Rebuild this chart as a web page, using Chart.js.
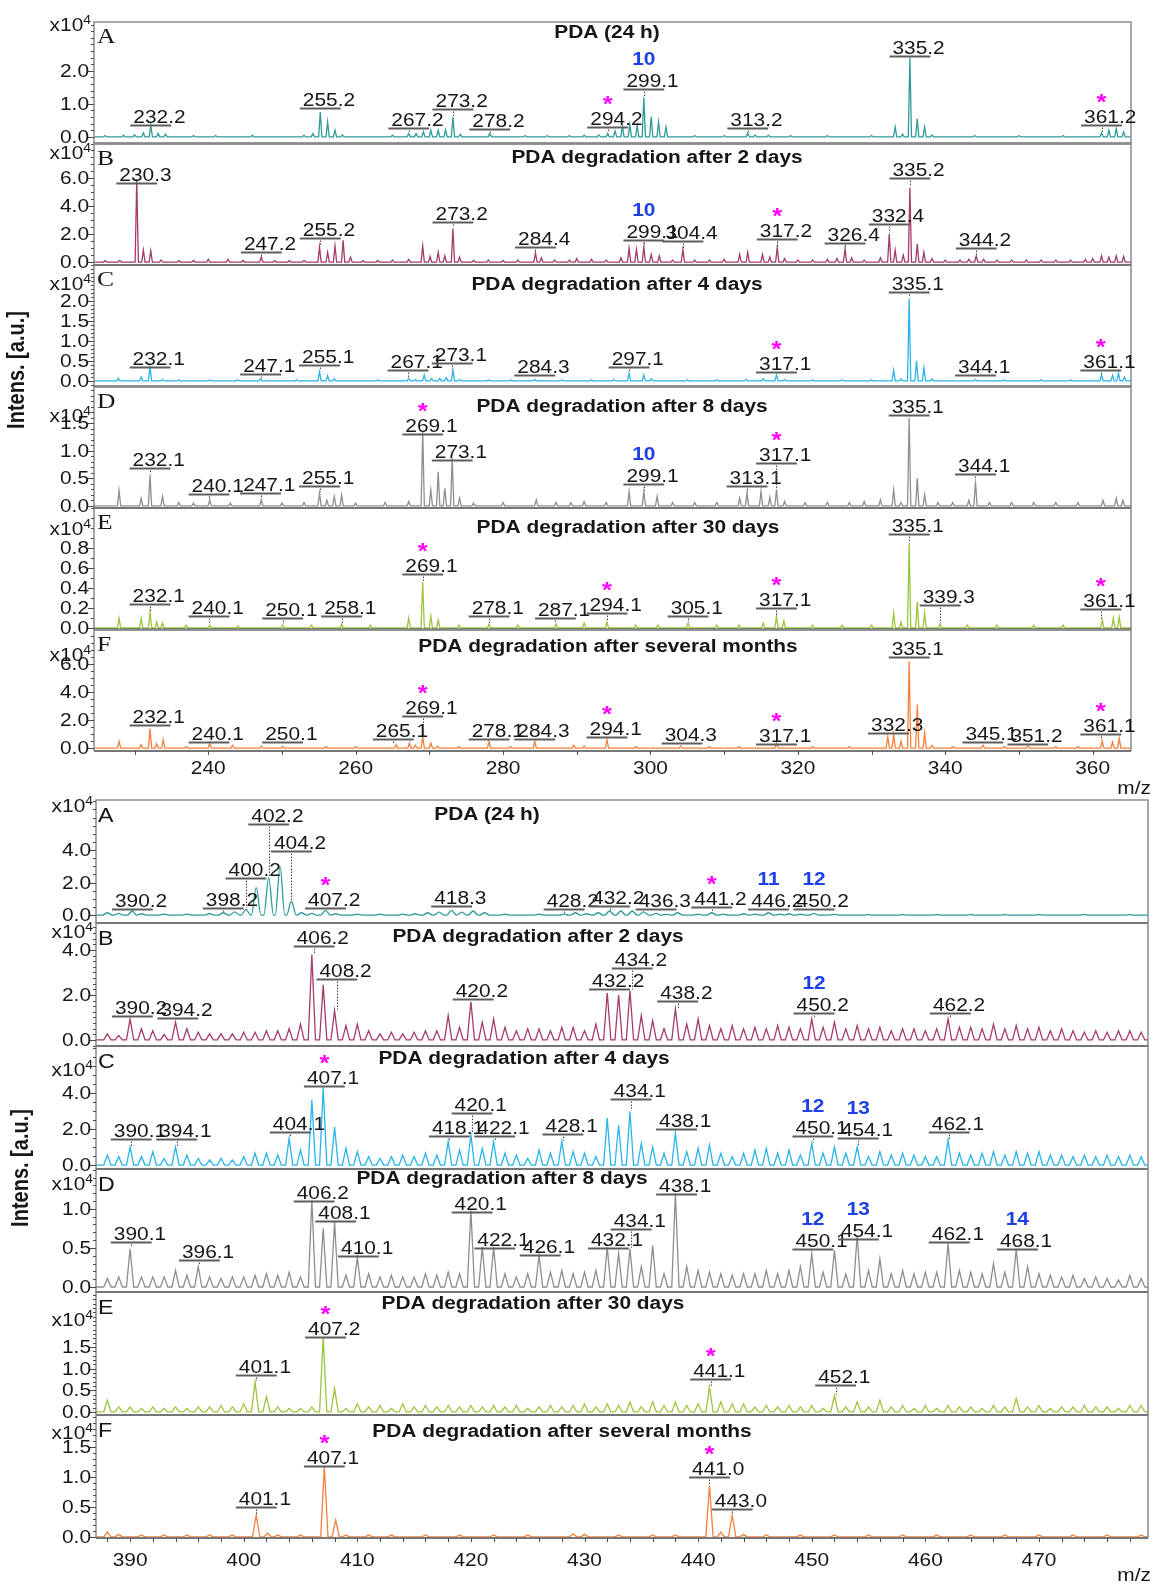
<!DOCTYPE html>
<html>
<head>
<meta charset="utf-8">
<script src="https://cdn.jsdelivr.net/npm/chart.js@4.4.1/dist/chart.umd.min.js"></script>
<style>
  html, body { margin: 0; padding: 0; background: #fff; }
  body { width: 1153px; height: 1585px; position: relative; overflow: hidden; }
  canvas { position: absolute; left: 0; }
  #topChart { top: 0; }
  #botChart { top: 780px; }
</style>
</head>
<body>
<canvas id="topChart" width="1153" height="800"></canvas>
<canvas id="botChart" width="1153" height="805"></canvas>
<script>
// ---- data: [m/z, intensity x10^4] ----
const peaksTA = [[226,0.04],[228.5,0.05],[230,0.06],[231.2,0.12],[232.2,0.35],[233.2,0.1],[234.2,0.08],[238,0.04],[241,0.04],[246,0.05],
  [253,0.05],[254.2,0.1],[255.2,0.75],[256.2,0.45],[257.2,0.2],[258.2,0.06],[265,0.05],[267.2,0.1],[268.2,0.1],[269.2,0.15],
  [270.2,0.2],[271.2,0.2],[272.2,0.22],[273.2,0.6],[274.2,0.08],[278.2,0.1],[283,0.04],[286,0.04],[289,0.04],[291,0.05],
  [293,0.06],[294.2,0.1],[295.2,0.18],[296.2,0.32],[297.2,0.38],[298.2,0.35],[299.1,1.2],[300.1,0.62],[301.1,0.45],[302.1,0.3],
  [306,0.04],[310,0.04],[313.2,0.12],[314.2,0.06],[316,0.05],[319,0.04],[324,0.04],[330,0.04],[333.2,0.3],[334.2,0.08],
  [335.2,2.4],[336.2,0.55],[337.2,0.3],[338.2,0.06],[344,0.04],[350,0.04],[356,0.04],[361.2,0.12],[362.2,0.2],[363.2,0.25],[364.2,0.15]];
const labelsTA = ['232.2','255.2','267.2','273.2','278.2','294.2','299.1','313.2','335.2','361.2'];
const starsTA = ['294.2','361.2'];
const compsTA = [['299.1','10']];

const peaksTB = [[226,0.1],[228,0.12],[230.3,5.9],[231.2,0.85],[232.2,0.8],[233.6,0.15],[236,0.1],[238,0.12],[240,0.2],[242.7,0.2],
  [244.7,0.12],[247.2,0.35],[249,0.1],[251,0.1],[253,0.12],[255.1,1.07],[256.2,0.7],[257.2,1.15],[258.3,1.55],[259.3,0.35],
  [261,0.1],[263,0.12],[265,0.15],[267.2,0.2],[269.1,1.15],[270.1,0.4],[271.2,0.7],[272.1,0.45],[273.2,2.4],[274.1,0.35],
  [276,0.12],[278,0.15],[280,0.12],[282,0.15],[284.4,0.65],[285.2,0.3],[287,0.15],[289,0.15],[290,0.25],[292,0.2],
  [294,0.15],[296,0.3],[297.1,1.0],[298.1,0.9],[299.1,1.1],[300.1,0.55],[301.2,0.45],[303,0.15],[304.4,0.9],[306,0.15],
  [308,0.15],[310,0.2],[312.1,0.55],[313.2,0.7],[315.2,0.55],[316.2,0.35],[317.2,1.05],[318.2,0.25],[320,0.15],[322,0.15],
  [324,0.2],[325.3,0.25],[326.4,0.95],[327.3,0.3],[329,0.15],[331.2,0.3],[332.4,2.0],[333.2,0.85],[334.3,0.5],[335.2,5.3],
  [336.2,1.3],[337.1,0.7],[338.2,0.25],[340,0.15],[342,0.15],[343.2,0.2],[344.2,0.45],[345.2,0.2],[347,0.15],[349,0.15],
  [351,0.15],[353,0.15],[355,0.15],[357,0.15],[359,0.2],[360,0.25],[361.2,0.45],[362.2,0.35],[363.2,0.45],[364.2,0.4]];
const labelsTB = ['230.3','247.2','255.2','273.2','284.4','299.1','304.4','317.2','326.4','332.4','335.2','344.2'];
const starsTB = ['317.2'];
const compsTB = [['299.1','10']];

const peaksTC = [[227.8,0.06],[230.9,0.1],[232.1,0.35],[233.8,0.04],[236,0.03],[240.2,0.03],[244,0.03],[247.1,0.05],[252,0.03],[255.1,0.23],
  [256.2,0.13],[257.1,0.05],[263,0.03],[267.2,0.06],[268.1,0.04],[269.3,0.15],[270.3,0.06],[271.4,0.06],[272.3,0.08],[273.2,0.27],
  [274.1,0.04],[278,0.03],[281,0.03],[284.3,0.04],[288,0.03],[292,0.03],[295,0.04],[297.1,0.19],[299.1,0.15],[300.1,0.05],
  [305,0.03],[309,0.03],[313,0.04],[315.3,0.05],[317.1,0.15],[318.2,0.04],[322,0.03],[326,0.03],[330,0.03],[333,0.27],
  [334,0.05],[335.1,2.06],[336.1,0.5],[337.1,0.33],[338.2,0.05],[344.1,0.04],[348,0.03],[353,0.03],[357,0.03],[361.2,0.15],
  [362.7,0.14],[363.5,0.2],[364.3,0.1]];
const labelsTC = ['232.1','247.1','255.1','267.1','273.1','284.3','297.1','317.1','335.1','344.1','361.1'];
const starsTC = ['317.1','361.1'];
const compsTC = [];

const peaksTD = [[227.9,0.28],[230.9,0.14],[232.1,0.56],[233.8,0.17],[236,0.06],[238,0.05],[240.2,0.11],[243,0.05],[247.2,0.11],[250,0.05],
  [253,0.06],[255.1,0.23],[256.1,0.1],[257.1,0.17],[258.1,0.19],[260,0.05],[264,0.06],[267.2,0.08],[269.1,1.35],[270.2,0.29],
  [271.2,0.62],[272.1,0.32],[273.1,0.87],[274.1,0.14],[276,0.05],[280,0.06],[284.5,0.11],[287.2,0.06],[289.2,0.06],[291,0.08],
  [294,0.06],[297.1,0.26],[299.1,0.26],[300.9,0.17],[303,0.06],[306,0.06],[309,0.06],[312.1,0.14],[313.1,0.23],[315,0.26],
  [316.2,0.16],[317.1,0.3],[318.2,0.08],[321,0.06],[324,0.06],[327,0.06],[329,0.08],[331.2,0.11],[333,0.29],[334,0.06],
  [335.1,1.6],[336.2,0.5],[337.2,0.2],[339,0.06],[341,0.06],[343.2,0.1],[344.1,0.44],[346,0.06],[349,0.06],[352,0.06],
  [355,0.06],[358,0.06],[361.4,0.1],[363.2,0.14],[364.1,0.1]];
const labelsTD = ['232.1','240.1','247.1','255.1','269.1','273.1','299.1','313.1','317.1','335.1','344.1'];
const starsTD = ['269.1','317.1'];
const compsTD = [['299.1','10']];

const peaksTE = [[227.9,0.1],[230.9,0.1],[232.1,0.16],[233,0.06],[233.8,0.05],[237,0.03],[240.2,0.03],[244,0.02],[250.1,0.03],[254,0.03],
  [258.1,0.04],[262,0.03],[267.2,0.1],[269.1,0.46],[270.2,0.12],[271.2,0.08],[274,0.03],[278.1,0.04],[282,0.03],[287.2,0.04],
  [291,0.05],[294.1,0.06],[298,0.03],[301,0.03],[305.1,0.05],[309,0.03],[312,0.03],[315.3,0.05],[317.1,0.12],[318.1,0.07],
  [322,0.03],[326,0.03],[330,0.03],[333,0.15],[334,0.06],[335.1,0.85],[336.2,0.26],[337.2,0.15],[339.3,0.04],[343,0.03],
  [347,0.03],[352,0.03],[356,0.03],[361.3,0.08],[362.8,0.1],[363.6,0.11]];
const labelsTE = ['232.1','240.1','250.1','258.1','269.1','278.1','287.1','294.1','305.1','317.1','335.1','339.3','361.1'];
const starsTE = ['269.1','294.1','317.1','361.1'];
const compsTE = [];

const peaksTF = [[227.9,0.48],[230.9,0.24],[232.1,1.38],[233,0.3],[233.9,0.6],[237,0.1],[240.2,0.36],[243.3,0.2],[247.2,0.15],[250.1,0.12],
  [256,0.1],[260,0.1],[265.5,0.24],[267.3,0.36],[268.1,0.2],[269.1,0.76],[270.2,0.36],[271.1,0.15],[274,0.1],[278.1,0.48],
  [281,0.1],[284.3,0.48],[289.6,0.2],[291,0.15],[294.1,0.6],[298,0.1],[304.1,0.15],[308,0.1],[312,0.1],[317.1,0.36],
  [322,0.1],[327,0.1],[332.2,0.83],[333,1.0],[334,0.5],[335.1,6.2],[336.2,3.1],[337.2,1.07],[338.2,0.2],[341,0.1],
  [345.1,0.2],[348,0.1],[351.2,0.15],[355,0.1],[358,0.1],[361.3,0.52],[362.7,0.43],[363.6,0.71]];
const labelsTF = ['232.1','240.1','250.1','265.1','269.1','278.1','284.3','294.1','304.3','317.1','332.3','335.1','345.1','351.2','361.1'];
const starsTF = ['269.1','294.1','317.1','361.1'];
const compsTF = [];

// lower figure (m/z 387-480)
const peaksBA = [[388,0.14],[389,0.1],[390.2,0.25],[391,0.08],[393,0.05],[395,0.05],[397,0.08],[398.2,0.14],[399.2,0.2],[400.2,0.35],
  [401.1,1.7],[402.2,2.3],[403.2,3.0],[404.2,0.86],[405.1,0.14],[406,0.1],[407.2,0.29],[408.1,0.08],[410,0.05],[412,0.05],
  [414,0.06],[415.1,0.08],[416.2,0.14],[417.2,0.18],[418.3,0.29],[419.2,0.18],[420.2,0.25],[421.2,0.14],[423,0.05],[426,0.05],
  [428.2,0.06],[429.2,0.14],[430.2,0.08],[431.2,0.14],[432.2,0.25],[433.2,0.25],[434.2,0.25],[435.2,0.2],[436.3,0.1],[437.2,0.04],
  [438.2,0.14],[440,0.05],[441.2,0.14],[442.2,0.06],[444,0.08],[445,0.05],[446.2,0.14],[447.2,0.05],[448,0.08],[449,0.05],
  [450.2,0.1],[452,0.04],[455,0.03],[458,0.03],[461,0.03],[464,0.03],[467,0.03],[470,0.03],[474,0.02],[478,0.02]];
const labelsBA = ['390.2','398.2','400.2','402.2','404.2','407.2','418.3','428.2','432.2','436.3','441.2','446.2','450.2'];
const starsBA = ['407.2','441.2'];
const compsBA = [['446.2','11'],['450.2','12']];

// panels B-E of the lower figure: one peak per nominal mass, m/z 388 ... 479
const gridMz = Array.from({ length: 92 }, (_, i) => 388 + i);
const gridB = [0.27,0.2,0.93,0.5,0.41,0.24,0.79,0.5,0.34,0.27, 0.27,0.27,0.34,0.34,0.41,0.41,0.5,0.7,3.8,2.45,
  1.3,0.64,0.7,0.41,0.27,0.34,0.27,0.34,0.41,0.41, 1.08,0.56,1.7,0.79,0.93,0.56,0.41,0.49,0.49,0.41,
  0.56,0.56,0.41,0.7,2.1,2.0,2.2,1.08,0.86,0.5, 1.38,0.7,0.93,0.64,0.5,0.64,0.49,0.56,0.49,0.64,
  0.56,0.49,0.93,0.56,0.79,0.49,0.64,0.49,0.56,0.41, 0.49,0.49,0.41,0.49,0.93,0.56,0.56,0.49,0.7,0.49,
  0.64,0.49,0.56,0.41,0.49,0.41,0.34,0.41,0.34,0.41, 0.41,0.34];
const labelsBB = ['390.2','394.2','406.2','408.2','420.2','432.2','434.2','438.2','450.2','462.2'];
const starsBB = [];
const compsBB = [['450.2','12']];

const gridC = [0.55,0.46,1.0,0.46,0.74,0.37,1.0,0.55,0.37,0.28, 0.37,0.28,0.46,0.65,0.65,0.55,1.48,0.83,3.6,4.3,
  2.1,0.93,0.74,0.46,0.37,0.46,0.55,0.46,0.65,0.55, 1.3,0.83,1.67,0.93,1.3,0.65,0.55,0.37,0.83,0.65,
  1.3,0.74,0.65,0.46,2.6,2.2,2.96,1.2,1.0,0.65, 1.76,0.74,0.93,1.1,0.65,0.46,0.65,0.83,0.93,0.65,
  0.83,0.55,1.2,0.65,1.0,0.65,1.0,0.46,0.74,0.55, 0.65,0.55,0.46,0.46,1.39,0.65,0.55,0.65,0.74,0.55,
  0.74,0.65,0.74,0.55,0.55,0.46,0.55,0.46,0.55,0.46, 0.55,0.46];
const labelsBC = ['390.1','394.1','404.1','407.1','418.1','420.1','422.1','428.1','434.1','438.1','450.1','454.1','462.1'];
const starsBC = ['407.1'];
const compsBC = [['450.1','12'],['454.1','13']];

const gridD = [0.11,0.13,0.49,0.13,0.13,0.13,0.21,0.15,0.26,0.13, 0.11,0.13,0.13,0.15,0.17,0.15,0.19,0.13,1.11,0.75,
  0.83,0.15,0.38,0.17,0.13,0.15,0.13,0.13,0.17,0.15, 0.19,0.17,0.98,0.51,0.51,0.17,0.13,0.17,0.41,0.19,
  0.21,0.17,0.19,0.21,0.51,0.43,0.49,0.26,0.53,0.17, 1.2,0.26,0.21,0.19,0.17,0.15,0.17,0.17,0.21,0.17,
  0.21,0.26,0.43,0.19,0.47,0.17,0.66,0.21,0.36,0.17, 0.21,0.17,0.19,0.19,0.56,0.21,0.19,0.17,0.3,0.19,
  0.49,0.26,0.17,0.15,0.13,0.15,0.11,0.13,0.11,0.09, 0.15,0.11];
const labelsBD = ['390.1','396.1','406.2','408.1','410.1','420.1','422.1','426.1','432.1','434.1','438.1','450.1','454.1','462.1','468.1'];
const starsBD = [];
const compsBD = [['450.1','12'],['454.1','13'],['468.1','14']];

const gridE = [0.27,0.12,0.12,0.08,0.12,0.08,0.12,0.08,0.12,0.12, 0.15,0.12,0.19,0.69,0.35,0.12,0.08,0.08,0.12,1.73,
  0.54,0.08,0.19,0.12,0.15,0.08,0.19,0.12,0.15,0.12, 0.15,0.12,0.15,0.12,0.15,0.12,0.15,0.08,0.12,0.15,
  0.12,0.15,0.19,0.12,0.19,0.15,0.23,0.12,0.23,0.15, 0.23,0.15,0.19,0.58,0.23,0.19,0.19,0.12,0.15,0.12,
  0.15,0.12,0.15,0.08,0.38,0.12,0.23,0.12,0.27,0.12, 0.15,0.08,0.15,0.08,0.15,0.12,0.12,0.08,0.15,0.12,
  0.31,0.12,0.15,0.08,0.12,0.12,0.15,0.12,0.12,0.08, 0.15,0.15];
const labelsBE = ['401.1','407.2','441.1','452.1'];
const starsBE = ['407.2','441.1'];
const compsBE = [];

const peaksBF = [[388,0.08],[389,0.04],[391,0.03],[393,0.03],[395,0.03],[397,0.03],[399,0.03],[401.1,0.36],[402.1,0.06],[403,0.03],
  [405,0.03],[407.1,1.17],[408.1,0.28],[409,0.03],[411,0.03],[413,0.03],[416,0.03],[419,0.03],[422,0.03],[425,0.03],
  [429,0.05],[430,0.04],[433,0.03],[436,0.03],[438,0.03],[441,0.86],[442,0.08],[443,0.36],[444,0.04],[446,0.03],
  [449,0.03],[452,0.03],[455,0.03],[458,0.03],[461,0.03],[464,0.03],[467,0.03],[470,0.03],[473,0.03],[476,0.03],[479,0.03]];
const labelsBF = ['401.1','407.1','441.0','443.0'];
const starsBF = ['407.1','441.0'];
const compsBF = [];

const topTickLabels = [240, 260, 280, 300, 320, 340, 360];
const botTickLabels = [390, 400, 410, 420, 430, 440, 450, 460, 470];

// ---- label placement (px above the zero line), layout only ----
const liftTA = [13, 30, 10, 29, 9, 11, 49, 10, 82, 13];
const liftTB = [80, 11, 25, 41, 16, 23, 22, 24, 20, 39, 85, 15];
const liftTC = [15, 8, 17, 12, 19, 7, 15, 10, 90, 7, 12];
const liftTD = [39, 13, 14, 21, 73, 47, 23, 21, 44, 92, 33];
const liftTE = [25, 13, 11, 13, 55, 13, 11, 16, 13, 21, 95, 24, 20];
const liftTF = [24, 7, 7, 10, 33, 10, 10, 12, 6, 5, 16, 92, 7, 5, 15];
const liftBA = [7, 8, 38, 92, 65, 8, 10, 7, 10, 7, 9, 7, 7];
const liftBB = [25, 23, 95, 62, 42, 52, 73, 40, 28, 28];
const liftBC = [27, 27, 34, 80, 30, 53, 30, 32, 67, 37, 30, 28, 34];
const liftBD = [46, 28, 87, 67, 32, 76, 40, 33, 40, 59, 94, 39, 49, 46, 39];
const liftBE = [38, 76, 34, 28];
const liftBF = [31, 72, 61, 29];

const COL = { teal: '#2f9b98', maroon: '#a33b6b', blue: '#2ab4ea', grey: '#8e8e8e', green: '#9bc53d', orange: '#f5803a' };
const SX = 1.16;          // the figure is stretched horizontally
const INK = '#161616';
const SANS = '"Liberation Sans", Arial, Helvetica, sans-serif';
const SERIF = '"Liberation Serif", "Times New Roman", serif';

const T2 = 'PDA degradation after ';
const topGroup = {
  canvas: 'topChart', xMin: 224.5, xMax: 365.2, serif: true,
  padding: { left: 54, right: 22, top: 22, bottom: 19 },
  tickLabels: topTickLabels, tick0: 230, tickStep: 10, labelDy: 23, yTitle: 370, yTitleX: 18, peakW: 0.22,
  panels: [
    { letter: 'A', title: 'PDA (24 h)', color: COL.teal, peaks: peaksTA, labels: labelsTA, lifts: liftTA, stars: starsTA, comps: compsTA,
      min: -0.2, max: 3.48, majors: [0, 1, 2], minor: 0.2, expoDy: 2, titleX: 607, titleDy: 11 },
    { letter: 'B', title: T2 + '2 days', color: COL.maroon, peaks: peaksTB, labels: labelsTB, lifts: liftTB, stars: starsTB, comps: compsTB,
      min: -0.21, max: 8.46, majors: [0, 2, 4, 6], minor: 0.5, expoDy: 8, titleX: 657, titleDy: 15 },
    { letter: 'C', title: T2 + '4 days', color: COL.blue, peaks: peaksTC, labels: labelsTC, lifts: liftTC, stars: starsTC, comps: compsTC,
      min: -0.14, max: 2.9, majors: [0, 0.5, 1, 1.5, 2], minor: 0.1, expoDy: 18, titleX: 617, titleDy: 20 },
    { letter: 'D', title: T2 + '8 days', color: COL.grey, peaks: peaksTD, labels: labelsTD, lifts: liftTD, stars: starsTD, comps: compsTD,
      min: -0.04, max: 2.17, majors: [0, 0.5, 1, 1.5], minor: 0.1, expoDy: 28, titleX: 622, titleDy: 21 },
    { letter: 'E', title: T2 + '30 days', color: COL.green, peaks: peaksTE, labels: labelsTE, lifts: liftTE, stars: starsTE, comps: compsTE,
      min: -0.015, max: 1.2, majors: [0, 0.2, 0.4, 0.6, 0.8], minor: 0.1, expoDy: 20, titleX: 628, titleDy: 20 },
    { letter: 'F', title: T2 + 'several months', color: COL.orange, peaks: peaksTF, labels: labelsTF, lifts: liftTF, stars: starsTF, comps: compsTF,
      min: -0.21, max: 8.46, majors: [0, 2, 4, 6], minor: 0.5, expoDy: 24, titleX: 608, titleDy: 18 }
  ]
};

const gridPeaks = vals => gridMz.map((m, i) => [m, vals[i]]);
const botGroup = {
  canvas: 'botChart', xMin: 387, xMax: 479.6, serif: false,
  padding: { left: 56, right: 5, top: 20, bottom: 17 },
  tickLabels: botTickLabels, tick0: 388, tickStep: 2, labelDy: 28, yTitle: 388, yTitleX: 22, peakW: 0.32,
  panels: [
    { letter: 'A', title: 'PDA (24 h)', color: COL.teal, peaks: peaksBA, labels: labelsBA, lifts: liftBA, stars: starsBA, comps: compsBA,
      min: -0.49, max: 7.08, majors: [0, 2, 4], minor: 0.5, expoDy: 5, titleX: 487, titleDy: 15, smooth: true },
    { letter: 'B', title: T2 + '2 days', color: COL.maroon, peaks: gridPeaks(gridB), labels: labelsBB, lifts: liftBB, stars: starsBB, comps: compsBB,
      min: -0.27, max: 5.2, majors: [0, 2, 4], minor: 0.25, expoDy: 8, titleX: 538, titleDy: 14 },
    { letter: 'C', title: T2 + '4 days', color: COL.blue, peaks: gridPeaks(gridC), labels: labelsBC, lifts: liftBC, stars: starsBC, comps: compsBC,
      min: -0.22, max: 6.6, majors: [0, 2, 4], minor: 0.5, expoDy: 23, titleX: 524, titleDy: 13 },
    { letter: 'D', title: T2 + '8 days', color: COL.grey, peaks: gridPeaks(gridD), labels: labelsBD, lifts: liftBD, stars: starsBD, comps: compsBD,
      min: -0.064, max: 1.51, majors: [0, 0.5, 1], minor: 0.1, expoDy: 14, titleX: 502, titleDy: 10 },
    { letter: 'E', title: T2 + '30 days', color: COL.green, peaks: gridPeaks(gridE), labels: labelsBE, lifts: liftBE, stars: starsBE, comps: compsBE,
      min: -0.07, max: 2.77, majors: [0, 0.5, 1, 1.5], minor: 0.1, expoDy: 27, titleX: 533, titleDy: 12 },
    { letter: 'F', title: T2 + 'several months', color: COL.orange, peaks: peaksBF, labels: labelsBF, lifts: liftBF, stars: starsBF, comps: compsBF,
      min: -0.02, max: 2.03, majors: [0, 0.5, 1, 1.5], minor: 0.1, expoDy: 17, titleX: 562, titleDy: 17 }
  ]
};

// each peak becomes a narrow spike on a zero baseline
function toPoints(peaks, w, x0, x1) {
  const pts = [{ x: x0, y: 0 }, { x: x1, y: 0 }];
  peaks.forEach(([m, h]) => pts.push({ x: m - w, y: 0 }, { x: m, y: h }, { x: m + w, y: 0 }));
  return pts.sort((a, b) => a.x - b.x);
}

function peakHeight(peaks, m) {
  let best = null, d = 0.8;
  peaks.forEach(([pm, h]) => { if (Math.abs(pm - m) < d) { d = Math.abs(pm - m); best = h; } });
  return best === null ? 0 : best;
}

// stretched text, like the squashed source figure
function sText(ctx, s, x, y, align) {
  const w = ctx.measureText(s).width * SX;
  const left = align === 'center' ? x - w / 2 : (align === 'right' ? x - w : x);
  ctx.save();
  ctx.translate(left, y);
  ctx.scale(SX, 1);
  ctx.textAlign = 'left';
  ctx.fillText(s, 0, 0);
  ctx.restore();
  return w;
}

function drawPanel(ctx, chart, grp, p, i) {
  const xs = chart.scales.x;
  const ys = chart.scales['p' + i];
  const L = chart.chartArea.left, R = chart.chartArea.right;
  const T = ys.top, B = ys.bottom;
  const zero = ys.getPixelForValue(0);
  const last = i === grp.panels.length - 1;

  // frame
  ctx.setLineDash([]);
  ctx.lineWidth = 1.5;
  ctx.strokeStyle = '#8a8a8a';
  ctx.beginPath();
  ctx.moveTo(L, B); ctx.lineTo(L, T); ctx.lineTo(R, T); ctx.lineTo(R, B);
  ctx.stroke();
  ctx.lineWidth = 2.2;
  ctx.strokeStyle = last ? '#777' : '#363636';
  ctx.beginPath(); ctx.moveTo(L, B); ctx.lineTo(R, B); ctx.stroke();

  // y ticks
  ctx.lineWidth = 1;
  ctx.strokeStyle = '#4a4a4a';
  const n0 = Math.ceil(p.min / p.minor - 1e-6);
  for (let k = n0; k * p.minor <= p.max + 1e-6; k++) {
    const y = Math.round(ys.getPixelForValue(k * p.minor)) + 0.5;
    ctx.beginPath(); ctx.moveTo(L - 3, y); ctx.lineTo(L, y); ctx.stroke();
  }
  ctx.font = '18px ' + SANS;
  ctx.fillStyle = INK;
  ctx.textBaseline = 'middle';
  p.majors.forEach(v => {
    const y = Math.round(ys.getPixelForValue(v)) + 0.5;
    ctx.beginPath(); ctx.moveTo(L - 6, y); ctx.lineTo(L, y); ctx.stroke();
    sText(ctx, v.toFixed(1), L - 5, y + 1, 'right');
  });

  // x10^4
  ctx.textBaseline = 'alphabetic';
  ctx.font = '12px ' + SANS;
  const w4 = ctx.measureText('4').width * SX;
  ctx.font = '18px ' + SANS;
  const ey = T + p.expoDy;
  const wx = ctx.measureText('x10').width * SX;
  sText(ctx, 'x10', L - 3 - w4 - wx, ey + 7, 'left');
  ctx.font = '12px ' + SANS;
  sText(ctx, '4', L - 3 - w4, ey, 'left');

  // panel letter
  if (grp.serif) {
    ctx.font = '22px ' + SERIF;
    sText(ctx, p.letter, L + 3, T + 21, 'left');
  } else {
    ctx.font = '20px ' + SANS;
    sText(ctx, p.letter, L + 2, T + 22, 'left');
  }

  // title
  ctx.font = 'bold 18px ' + SANS;
  ctx.textBaseline = 'middle';
  sText(ctx, p.title, p.titleX, T + p.titleDy, 'center');
  ctx.textBaseline = 'alphabetic';

  // peak annotations
  p.labels.forEach((lab, k) => {
    const m = parseFloat(lab);
    const px = xs.getPixelForValue(m);
    const barY = Math.round(zero - p.lifts[k]) + 0.5;
    const ip = lab.split('.')[0];
    ctx.font = '18px ' + SANS;
    const iw = ctx.measureText(ip).width * SX;
    ctx.fillStyle = INK;
    sText(ctx, lab, px - iw / 2, barY - 2, 'left');
    ctx.setLineDash([]);
    ctx.lineWidth = 2;
    ctx.strokeStyle = '#5e5e5e';
    ctx.beginPath(); ctx.moveTo(px - iw / 2 - 3, barY + 1); ctx.lineTo(px + iw / 2 + 3, barY + 1); ctx.stroke();
    const topY = ys.getPixelForValue(peakHeight(p.peaks, m));
    if (topY - barY > 5) {
      ctx.lineWidth = 1;
      ctx.strokeStyle = '#444';
      ctx.setLineDash([1.5, 1.5]);
      ctx.beginPath(); ctx.moveTo(Math.round(px) + 0.5, barY + 3); ctx.lineTo(Math.round(px) + 0.5, topY - 1); ctx.stroke();
      ctx.setLineDash([]);
    }
    if (p.stars.includes(lab)) {
      ctx.font = 'bold 22px ' + SANS;
      ctx.fillStyle = '#ff00ff';
      sText(ctx, '*', px, barY - 16, 'center');
    }
    const comp = p.comps.find(c => c[0] === lab);
    if (comp) {
      ctx.font = 'bold 18px ' + SANS;
      ctx.fillStyle = '#1c3fe6';
      sText(ctx, comp[1], px, barY - 24, 'center');
    }
  });

  // x axis on the lowest panel
  if (last) {
    ctx.lineWidth = 1;
    ctx.strokeStyle = '#4a4a4a';
    for (let v = grp.tick0; v <= grp.xMax; v += grp.tickStep) {
      const x = Math.round(xs.getPixelForValue(v)) + 0.5;
      ctx.beginPath(); ctx.moveTo(x, B); ctx.lineTo(x, B + 4); ctx.stroke();
    }
    ctx.font = '18px ' + SANS;
    ctx.fillStyle = INK;
    grp.tickLabels.forEach(v => sText(ctx, String(v), xs.getPixelForValue(v), B + grp.labelDy, 'center'));
    sText(ctx, 'm/z', 1151, B + 43, 'right');
  }
}

function spectraPlugin(grp) {
  return {
    id: 'spectra',
    afterDraw(chart) {
      const ctx = chart.ctx;
      ctx.save();
      grp.panels.forEach((p, i) => drawPanel(ctx, chart, grp, p, i));
      // axis title
      const top = chart.scales.p0.top, bot = chart.scales['p' + (grp.panels.length - 1)].bottom;
      ctx.translate(grp.yTitleX, grp.yTitle || (top + bot) / 2);
      ctx.rotate(-Math.PI / 2);
      ctx.scale(1, SX);
      ctx.font = 'bold 20px ' + SANS;
      ctx.fillStyle = INK;
      ctx.textAlign = 'center';
      ctx.textBaseline = 'middle';
      ctx.fillText('Intens. [a.u.]', 0, 0);
      ctx.restore();
    }
  };
}

function buildChart(grp) {
  const scales = {
    x: {
      type: 'linear', min: grp.xMin, max: grp.xMax,
      ticks: { display: false }, grid: { display: false }, border: { display: false },
      afterFit: s => { s.height = 30; }
    }
  };
  const n = grp.panels.length;
  grp.panels.forEach((p, i) => {
    scales['p' + i] = {
      type: 'linear', position: 'left', stack: 'panels', stackWeight: 1, weight: n - i,
      min: p.min, max: p.max,
      ticks: { display: false }, grid: { display: false }, border: { display: false },
      afterFit: s => { s.width = 40; }
    };
  });
  const datasets = grp.panels.map((p, i) => ({
    data: toPoints(p.peaks, p.smooth ? 0.42 : grp.peakW, grp.xMin, grp.xMax),
    yAxisID: 'p' + i,
    xAxisID: 'x',
    borderColor: p.color,
    borderWidth: 1.3,
    pointRadius: 0,
    pointHoverRadius: 0,
    fill: false,
    tension: p.smooth ? 0.4 : 0,
    cubicInterpolationMode: p.smooth ? 'monotone' : 'default'
  }));
  return new Chart(document.getElementById(grp.canvas), {
    type: 'line',
    data: { datasets },
    options: {
      responsive: false,
      animation: false,
      devicePixelRatio: 1,
      layout: { padding: grp.padding, autoPadding: false },
      plugins: { legend: { display: false }, tooltip: { enabled: false } },
      events: [],
      scales
    },
    plugins: [spectraPlugin(grp)]
  });
}

buildChart(topGroup);
buildChart(botGroup);
</script>
</body>
</html>
